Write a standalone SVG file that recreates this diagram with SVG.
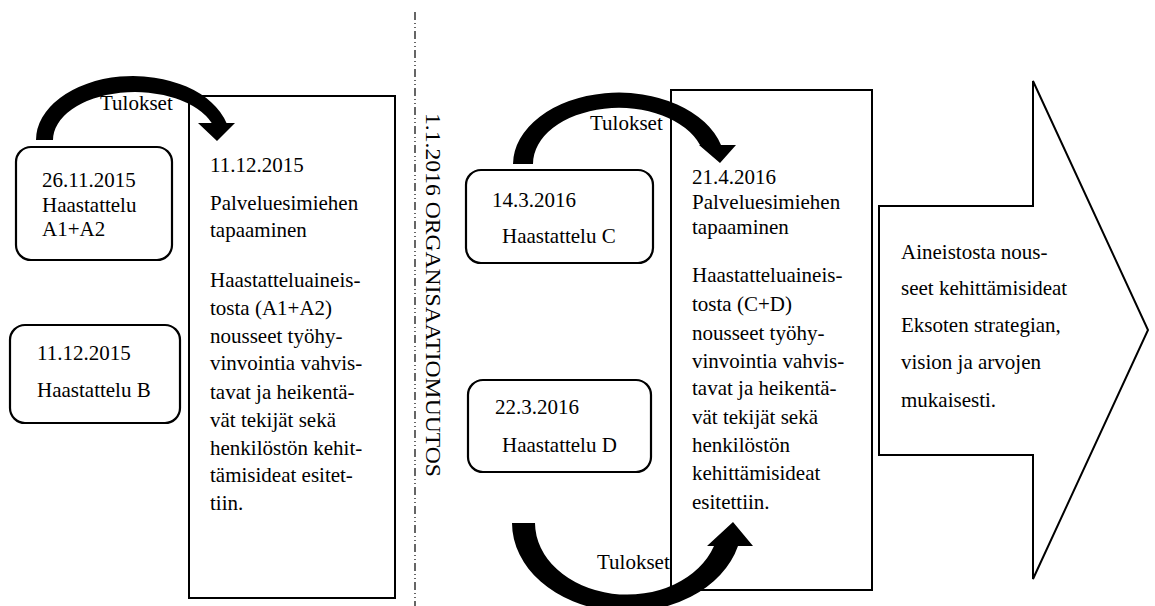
<svg xmlns="http://www.w3.org/2000/svg" width="1155" height="606" viewBox="0 0 1155 606">
<style>
text{font-family:"Liberation Serif","Times New Roman",serif;font-size:21px;fill:#000}
text.rot{font-size:22px}
.box{fill:#fff;stroke:#000;stroke-width:2}
.rbox{fill:#fff;stroke:#000;stroke-width:2.2}
.carrow{fill:#000;stroke:none}
</style>
<rect width="1155" height="606" fill="#fff"/>
<line x1="415" y1="12" x2="415" y2="606" stroke="#000" stroke-width="1.2" stroke-dasharray="8,3,1,3,1,3"/>
<text class="rot" transform="translate(426,113) rotate(90)" textLength="364" lengthAdjust="spacingAndGlyphs">1.1.2016 ORGANISAATIOMUUTOS</text>

<g id="meeting1">
<rect class="box" x="189" y="96" width="206" height="502"/>
<text x="210" y="172">11.12.2015</text>
<text x="210" y="210">Palveluesimiehen</text>
<text x="210" y="237">tapaaminen</text>
<text x="210" y="287">Haastatteluaineis-</text>
<text x="210" y="315">tosta (A1+A2)</text>
<text x="210" y="343">nousseet työhy-</text>
<text x="210" y="370">vinvointia vahvis-</text>
<text x="210" y="399">tavat ja heikentä-</text>
<text x="210" y="427">vät tekijät sekä</text>
<text x="210" y="455">henkilöstön kehit-</text>
<text x="210" y="482">tämisideat esitet-</text>
<text x="210" y="510">tiin.</text>
</g>

<g id="meeting2">
<rect class="box" x="671" y="90" width="201" height="500"/>
<text x="692" y="184">21.4.2016</text>
<text x="692" y="209">Palveluesimiehen</text>
<text x="692" y="234">tapaaminen</text>
<text x="692" y="282">Haastatteluaineis-</text>
<text x="692" y="311">tosta (C+D)</text>
<text x="692" y="340">nousseet työhy-</text>
<text x="692" y="368">vinvointia vahvis-</text>
<text x="692" y="395">tavat ja heikentä-</text>
<text x="692" y="424">vät tekijät sekä</text>
<text x="692" y="452">henkilöstön</text>
<text x="692" y="480">kehittämisideat</text>
<text x="692" y="509">esitettiin.</text>
</g>

<g id="interviewA">
<rect class="rbox" x="16" y="147" width="156" height="113" rx="15"/>
<text x="42" y="187">26.11.2015</text>
<text x="42" y="212">Haastattelu</text>
<text x="42" y="236">A1+A2</text>
</g>

<g id="interviewB">
<rect class="rbox" x="10" y="325" width="170" height="98" rx="15"/>
<text x="37" y="360">11.12.2015</text>
<text x="37" y="397">Haastattelu B</text>
</g>

<g id="interviewC">
<rect class="rbox" x="466" y="170" width="187" height="93" rx="15"/>
<text x="492" y="207">14.3.2016</text>
<text x="502" y="243">Haastattelu C</text>
</g>

<g id="interviewD">
<rect class="rbox" x="468" y="380" width="183" height="92" rx="15"/>
<text x="495" y="414">22.3.2016</text>
<text x="502" y="452">Haastattelu D</text>
</g>

<g id="outcome">
<polygon class="box" points="879,206 1033,206 1033,81 1148,330 1033,579 1033,455 879,455"/>
<text x="901" y="259">Aineistosta nous-</text>
<text x="901" y="295">seet kehittämisideat</text>
<text x="901" y="332">Eksoten strategian,</text>
<text x="901" y="369">vision ja arvojen</text>
<text x="901" y="407">mukaisesti.</text>
</g>

<g id="connectors">
<path class="carrow" d="M36,140 A97,64 0 0 1 226.5,123 L235,123 L217,141 L198,123 L211.7,123 A82,48 0 0 0 53,140 Z"/>
<text x="100" y="110">Tulokset</text>
<path class="carrow" d="M513,164 A106,72 0 0 1 721,145 L736,145 L720,163 L699,145 L700,145 A86,56 0 0 0 533,164 Z"/>
<text x="590" y="130">Tulokset</text>
<path class="carrow" d="M512,523 A115,89 0 0 0 738,546 L753,546 L733,522 L707,546 L714,546 A92,72 0 0 1 535,523 Z"/>
<text x="597" y="569">Tulokset</text>
</g>
</svg>
